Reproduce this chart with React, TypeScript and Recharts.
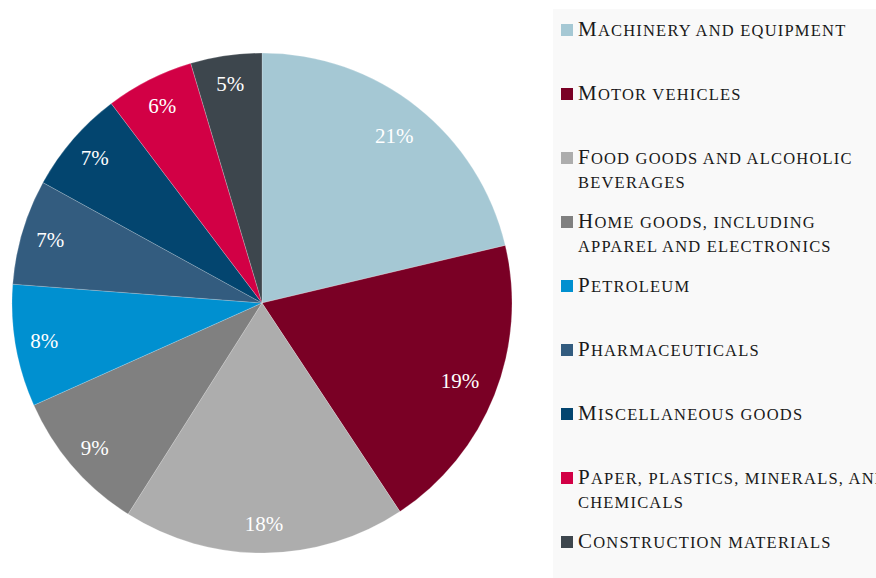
import { PieChart, Pie, Cell, Legend } from 'recharts';

const categories = [
  'Machinery and equipment',
  'Motor vehicles',
  'Food goods and alcoholic beverages',
  'Home goods, including apparel and electronics',
  'Petroleum',
  'Pharmaceuticals',
  'Miscellaneous goods',
  'Paper, plastics, minerals, and chemicals',
  'Construction materials',
];
const shares = [21.3, 19.4, 18.3, 9.3, 7.9, 6.8, 6.7, 5.7, 4.6];
const colors = ['#a5c8d4', '#7a0025', '#adadad', '#808080', '#0090d0', '#335c7f', '#03456f', '#d20045', '#3d464d'];

const data = categories.map((name, i) => ({ name, value: shares[i], color: colors[i] }));

const FONT = '"Liberation Serif", "DejaVu Serif", serif';
const RAD = Math.PI / 180;

function renderLabel(props: any) {
  const { cx, cy, midAngle, percent, index } = props;
  const r = index < 2 ? 213 : 221;
  const x = cx + r * Math.cos(-midAngle * RAD);
  const y = cy + r * Math.sin(-midAngle * RAD);
  return (
    <text x={x} y={y} fill="#fff" fontSize={21} fontFamily={FONT} textAnchor="middle" dominantBaseline="central">
      {Math.round(percent * 100)}%
    </text>
  );
}

function renderLegend() {
  return (
    <div style={{ background: '#f9f9f9', width: 323, height: 569, paddingTop: 10, boxSizing: 'border-box', overflow: 'hidden' }}>
      {data.map(d => (
        <div key={d.name} style={{ height: 64, display: 'flex', alignItems: 'flex-start' }}>
          <span style={{ width: 12, height: 12, background: d.color, marginLeft: 8, marginTop: 5, flexShrink: 0 }} />
          <span
            style={{
              marginLeft: 5,
              width: 315,
              flexShrink: 0,
              fontFamily: FONT,
              fontSize: 16.5,
              letterSpacing: 1.2,
              textTransform: 'uppercase',
              lineHeight: '24px',
              color: '#1a1a1a',
            }}
          >
            <span style={{ fontSize: 21, lineHeight: '20px' }}>{d.name.charAt(0)}</span>
            {d.name.slice(1)}
          </span>
        </div>
      ))}
    </div>
  );
}

export default function App() {
  return (
    <div style={{ position: 'fixed', top: 0, left: 0, width: 876, height: 578, overflow: 'hidden', background: '#fff' }}>
      <PieChart width={876} height={578} margin={{ top: 0, right: 0, bottom: 0, left: 0 }}>
        <Pie
          data={data}
          dataKey="value"
          nameKey="name"
          cx={262}
          cy={303}
          outerRadius={250}
          startAngle={90}
          endAngle={-270}
          label={renderLabel}
          labelLine={false}
          stroke="rgba(255,255,255,0.4)"
          strokeWidth={0.5}
          isAnimationActive={false}
        >
          {data.map((d, i) => (
            <Cell key={i} fill={d.color} />
          ))}
        </Pie>
        <Legend
          content={renderLegend}
          wrapperStyle={{ left: 553, top: 9, width: 323, height: 569, position: 'absolute' }}
        />
      </PieChart>
    </div>
  );
}
